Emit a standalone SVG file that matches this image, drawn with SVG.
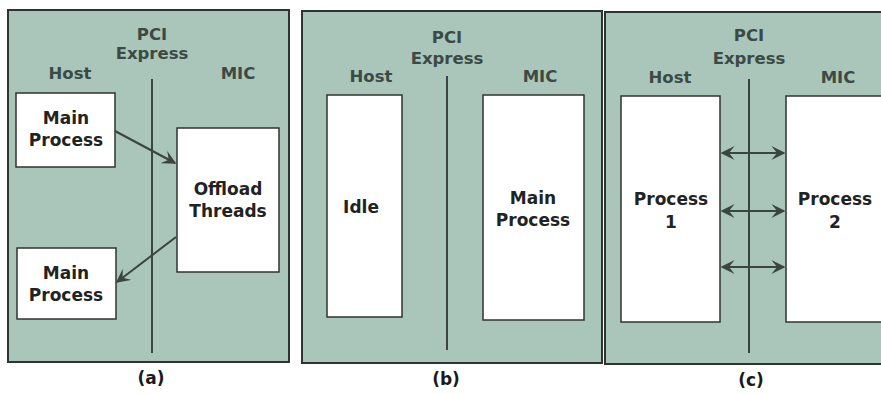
<svg xmlns="http://www.w3.org/2000/svg" width="881" height="394" viewBox="0 0 881 394">
<style>
.frame{fill:#aac6ba;stroke:#2e3431;stroke-width:2}
.box{fill:#ffffff;stroke:#2e3431;stroke-width:1.5}
.div{stroke:#3a4541;stroke-width:2;fill:none}
.hdr{font-family:"DejaVu Sans",Verdana,sans-serif;font-weight:bold;font-size:16.5px;fill:#3c4a46;text-anchor:middle}
.txt{font-family:"DejaVu Sans",Verdana,sans-serif;font-weight:bold;font-size:17px;fill:#1f2321;text-anchor:middle}
.cap{font-family:"DejaVu Sans",Verdana,sans-serif;font-weight:bold;font-size:17px;fill:#1a1a1a;text-anchor:middle}
.con{stroke:#3a4541;stroke-width:2;fill:none}
</style>
<defs>
<marker id="ah" viewBox="0 0 10 10" refX="9" refY="5" markerWidth="7" markerHeight="7" orient="auto-start-reverse" markerUnits="strokeWidth">
<path d="M0,0 L10,5 L0,10 L4,5 z" fill="#3a4541"/>
</marker>
</defs>
<rect width="881" height="394" fill="#ffffff"/>

<!-- Panel (a) -->
<g id="panel-a">
<rect class="frame" x="8" y="10" width="281" height="352"/>
<text class="hdr" x="152" y="40">PCI</text>
<text class="hdr" x="152" y="59">Express</text>
<text class="hdr" x="70" y="79">Host</text>
<text class="hdr" x="238" y="79">MIC</text>
<line class="div" x1="152" y1="79" x2="152" y2="353"/>
</g>
<g id="a-main1">
<rect class="box" x="16" y="93" width="99" height="74"/>
<text class="txt" x="66" y="124">Main</text>
<text class="txt" x="66" y="146">Process</text>
</g>
<g id="a-offload">
<rect class="box" x="177" y="128" width="102" height="144"/>
<text class="txt" x="228" y="195">Offload</text>
<text class="txt" x="228" y="217">Threads</text>
</g>
<g id="a-main2">
<rect class="box" x="17" y="248" width="99" height="71"/>
<text class="txt" x="66" y="279">Main</text>
<text class="txt" x="66" y="301">Process</text>
</g>
<text class="cap" x="151" y="384">(a)</text>

<!-- Panel (b) -->
<g id="panel-b">
<rect class="frame" x="302" y="11" width="300" height="352"/>
<text class="hdr" x="447" y="43">PCI</text>
<text class="hdr" x="447" y="64">Express</text>
<text class="hdr" x="371" y="82">Host</text>
<text class="hdr" x="540" y="82">MIC</text>
<line class="div" x1="447" y1="76" x2="447" y2="350"/>
</g>
<g id="b-idle">
<rect class="box" x="327" y="95" width="75" height="222"/>
<text class="txt" x="361" y="213">Idle</text>
</g>
<g id="b-main">
<rect class="box" x="483" y="95" width="101" height="225"/>
<text class="txt" x="533" y="204">Main</text>
<text class="txt" x="533" y="226">Process</text>
</g>
<text class="cap" x="446" y="385">(b)</text>

<!-- Panel (c) -->
<g id="panel-c">
<rect class="frame" x="605" y="12" width="290" height="352"/>
<text class="hdr" x="749" y="41">PCI</text>
<text class="hdr" x="749" y="64">Express</text>
<text class="hdr" x="670" y="83">Host</text>
<text class="hdr" x="838" y="83">MIC</text>
<line class="div" x1="749" y1="79" x2="749" y2="353"/>
</g>
<g id="c-p1">
<rect class="box" x="621" y="96" width="99" height="226"/>
<text class="txt" x="671" y="205">Process</text>
<text class="txt" x="671" y="228">1</text>
</g>
<g id="c-p2">
<rect class="box" x="786" y="96" width="110" height="226"/>
<text class="txt" x="835" y="205">Process</text>
<text class="txt" x="835" y="228">2</text>
</g>
<text class="cap" x="751" y="386">(c)</text>

<g id="connectors">
<line class="con" x1="115" y1="131" x2="175" y2="163" marker-end="url(#ah)"/>
<line class="con" x1="176" y1="237" x2="117" y2="282" marker-end="url(#ah)"/>
<line class="con" x1="722" y1="153" x2="784" y2="153" marker-start="url(#ah)" marker-end="url(#ah)"/>
<line class="con" x1="722" y1="211" x2="784" y2="211" marker-start="url(#ah)" marker-end="url(#ah)"/>
<line class="con" x1="722" y1="267" x2="784" y2="267" marker-start="url(#ah)" marker-end="url(#ah)"/>
</g>
</svg>
